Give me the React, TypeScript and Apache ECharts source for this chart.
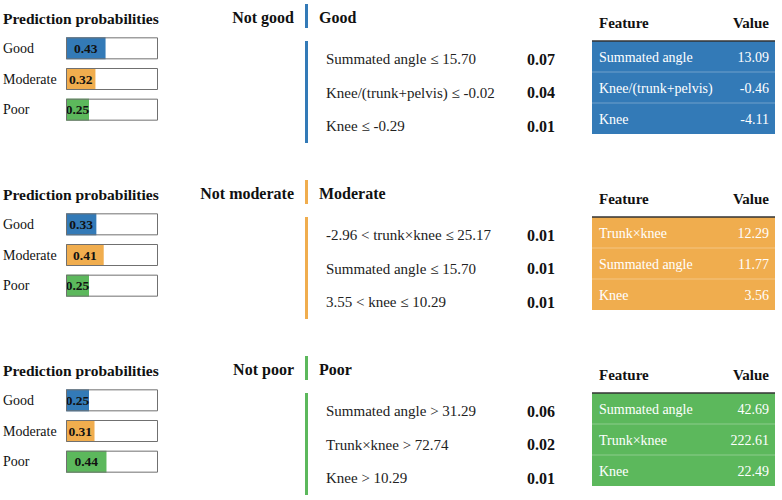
import React, { useEffect, useRef } from "react";
import * as echarts from "echarts";

const classNames = ["Good", "Moderate", "Poor"];
const probabilities = [
  [0.43, 0.32, 0.25],
  [0.33, 0.41, 0.25],
  [0.25, 0.31, 0.44],
];
const targetLabels = ["Good", "Moderate", "Poor"];
const notLabels = ["Not good", "Not moderate", "Not poor"];
const ruleTexts = [
  ["Summated angle ≤ 15.70", "Knee/(trunk+pelvis) ≤ -0.02", "Knee ≤ -0.29"],
  ["-2.96 < trunk×knee ≤ 25.17", "Summated angle ≤ 15.70", "3.55 < knee ≤ 10.29"],
  ["Summated angle > 31.29", "Trunk×knee > 72.74", "Knee > 10.29"],
];
const ruleWeights = [
  [0.07, 0.04, 0.01],
  [0.01, 0.01, 0.01],
  [0.06, 0.02, 0.01],
];
const featureNames = [
  ["Summated angle", "Knee/(trunk+pelvis)", "Knee"],
  ["Trunk×knee", "Summated angle", "Knee"],
  ["Summated angle", "Trunk×knee", "Knee"],
];
const featureValues = [
  [13.09, -0.46, -4.11],
  [12.29, 11.77, 3.56],
  [42.69, 222.61, 22.49],
];
const frameValues = [1, 1, 1];
const classColors = ["#337ab7", "#f0ad4e", "#5cb85c"];

const FONT = "Liberation Serif";
const PANEL_STEP = 176;

function txt(x: number, y: number, text: string, size: number, weight: string, fill: string, align: string) {
  return {
    type: "text",
    x,
    y,
    style: {
      text,
      fontFamily: FONT,
      fontSize: size,
      fontWeight: weight,
      fill,
      align,
      verticalAlign: "middle",
    },
  };
}

export default function App() {
  const ref = useRef<HTMLDivElement>(null);
  useEffect(() => {
    if (!ref.current) return;
    const chart = echarts.init(ref.current, null, { renderer: "svg" });
    const grids: any[] = [];
    const xAxes: any[] = [];
    const yAxes: any[] = [];
    const series: any[] = [];
    const graphics: any[] = [];

    probabilities.forEach((probs, p) => {
      const o = p * PANEL_STEP;
      grids.push({ left: 66, top: o + 33, width: 92, height: 92 });
      xAxes.push({ gridIndex: p, type: "value", min: 0, max: 1, show: false });
      yAxes.push({
        gridIndex: p,
        type: "category",
        data: classNames,
        inverse: true,
        axisLine: { show: false },
        axisTick: { show: false },
        axisLabel: {
          align: "left",
          margin: 63,
          fontFamily: FONT,
          fontSize: 14,
          color: "#111",
        },
      });
      series.push({
        type: "bar",
        xAxisIndex: p,
        yAxisIndex: p,
        barWidth: 22,
        barGap: "-100%",
        data: probs.map((v, i) => ({ value: v, itemStyle: { color: classColors[i] } })),
        label: {
          show: true,
          position: "inside",
          formatter: (d: any) => Number(d.value).toFixed(2),
          fontFamily: FONT,
          fontWeight: "bold",
          fontSize: 13.5,
          color: "#111",
        },
        z: 2,
      });
      series.push({
        type: "bar",
        xAxisIndex: p,
        yAxisIndex: p,
        barWidth: 22,
        barGap: "-100%",
        silent: true,
        data: frameValues,
        itemStyle: { color: "rgba(0,0,0,0)", borderColor: "#707070", borderWidth: 1 },
        z: 3,
      });

      graphics.push(txt(3, o + 18, "Prediction probabilities", 15.5, "bold", "#111", "left"));

      // middle explanation
      graphics.push(txt(294, o + 17, notLabels[p], 16, "bold", "#111", "right"));
      graphics.push({ type: "rect", shape: { x: 305, y: o + 4, width: 3, height: 24 }, style: { fill: classColors[p] } });
      graphics.push(txt(319, o + 17, targetLabels[p], 16, "bold", "#111", "left"));
      graphics.push({ type: "rect", shape: { x: 305, y: o + 41, width: 3, height: 102 }, style: { fill: classColors[p] } });
      ruleTexts[p].forEach((t, i) => {
        const y = o + 59 + i * 33.5;
        graphics.push(txt(326, y, t, 15, "normal", "#222", "left"));
        graphics.push(txt(527, y, ruleWeights[p][i].toFixed(2), 16, "bold", "#111", "left"));
      });

      // table
      graphics.push(txt(599, o + 23, "Feature", 15, "bold", "#111", "left"));
      graphics.push(txt(769, o + 23, "Value", 15, "bold", "#111", "right"));
      graphics.push({ type: "rect", shape: { x: 592, y: o + 41, width: 183, height: 93 }, style: { fill: classColors[p] } });
      [1, 2].forEach((k) => {
        graphics.push({
          type: "line",
          shape: { x1: 592, y1: o + 41 + k * 31, x2: 775, y2: o + 41 + k * 31 },
          style: { stroke: "rgba(255,255,255,0.3)", lineWidth: 1 },
        });
      });
      graphics.push({
        type: "line",
        shape: { x1: 592, y1: o + 41, x2: 775, y2: o + 41 },
        style: { stroke: "#333", lineWidth: 1.5 },
      });
      featureNames[p].forEach((n, i) => {
        const y = o + 57 + i * 31;
        graphics.push(txt(599, y, n, 14, "normal", "#fff", "left"));
        graphics.push(txt(769, y, featureValues[p][i].toFixed(2), 14, "normal", "#fff", "right"));
      });
    });

    chart.setOption({
      animation: false,
      backgroundColor: "#fff",
      grid: grids,
      xAxis: xAxes,
      yAxis: yAxes,
      series,
      graphic: graphics,
    });
    return () => chart.dispose();
  }, []);
  return <div ref={ref} style={{ position: "fixed", left: 0, top: 0, width: 782, height: 500 }} />;
}
